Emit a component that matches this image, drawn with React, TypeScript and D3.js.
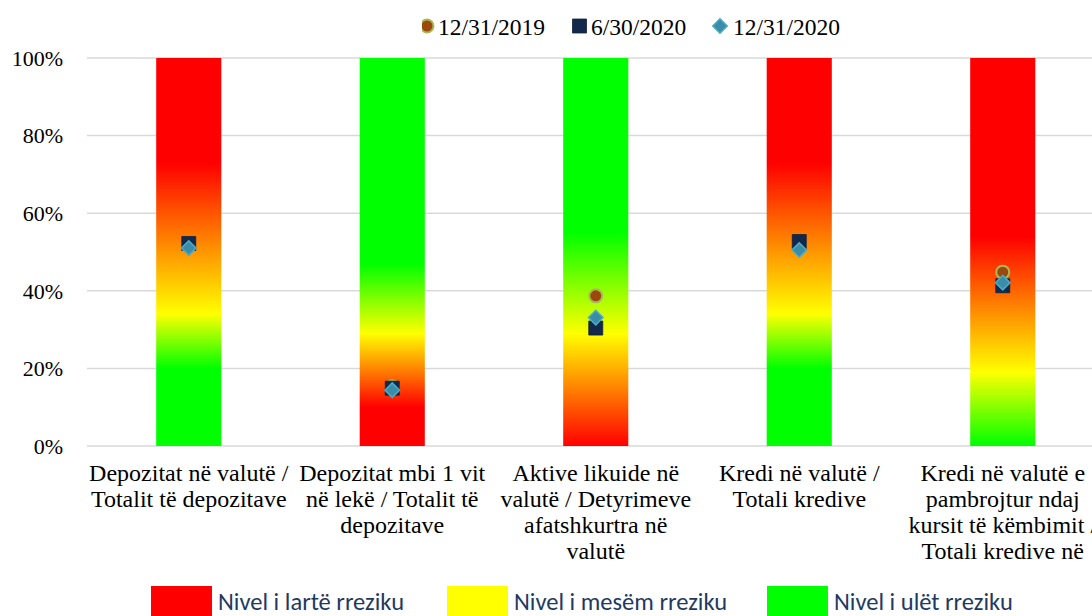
import { scaleBand, scaleLinear, symbol, symbolSquare } from "d3";

const W = 1092;
const H = 616;

// category labels, already wrapped the way the reference wraps them
const categoryLines = [
  ["Depozitat në valutë /", "Totalit të depozitave"],
  ["Depozitat mbi 1 vit", "në lekë / Totalit të", "depozitave"],
  ["Aktive likuide në", "valutë / Detyrimeve", "afatshkurtra në", "valutë"],
  ["Kredi në valutë /", "Totali kredive"],
  ["Kredi në valutë e", "pambrojtur ndaj", "kursit të këmbimit /", "Totali kredive në"],
];

const dates = ["12/31/2019", "6/30/2020", "12/31/2020"];
const values2019 = [0.52, 0.153, 0.387, 0.52, 0.448];
const valuesJun2020 = [0.522, 0.149, 0.304, 0.527, 0.413];
const valuesDec2020 = [0.51, 0.144, 0.331, 0.505, 0.421];

const RED = "#ff0000";
const YELLOW = "#ffff00";
const GREEN = "#00ff00";

// colour ramp of each bar, offsets in data units (0..1)
const barStops: [number, string][][] = [
  [[0, GREEN], [0.2, GREEN], [0.34, YELLOW], [0.73, RED], [1, RED]],
  [[0, RED], [0.1, RED], [0.29, YELLOW], [0.47, GREEN], [1, GREEN]],
  [[0, RED], [0.29, YELLOW], [0.55, GREEN], [1, GREEN]],
  [[0, GREEN], [0.2, GREEN], [0.34, YELLOW], [0.73, RED], [1, RED]],
  [[0, GREEN], [0.19, YELLOW], [0.54, RED], [1, RED]],
];

const yTicks = [0, 0.2, 0.4, 0.6, 0.8, 1];

const riskLabels = ["Nivel i lartë rreziku", "Nivel i mesëm rreziku", "Nivel i ulët rreziku"];
const riskColors = [RED, YELLOW, GREEN];

const serif = "'Liberation Serif'";
const calibri = "Carlito";

const x = scaleBand<number>()
  .domain(categoryLines.map((_, i) => i))
  .range([87, 1104.5])
  .paddingInner(0.68)
  .paddingOuter(0.34);
const y = scaleLinear().domain([0, 1]).range([446, 58]);
const cx = (i: number) => x(i)! + x.bandwidth() / 2;

const squarePath = symbol().type(symbolSquare).size(196)()!;
const diamondPath = symbol().type(symbolSquare).size(105)()!;

const CIRCLE = { fill: "#9c4a0c", stroke: "#a9b95a" };
const SQUARE = { fill: "#13294b", stroke: "#0f2240" };
const DIAMOND = { fill: "#3a8ca8", stroke: "#4bacc6" };

// legend layout (marker centre, text start)
const topLegendX = [
  [427, 438],
  [579.5, 591],
  [720, 733],
];
const riskLegendX = [151, 447, 767];

function Marker({ kind, tx, ty, clip }: { kind: number; tx: number; ty: number; clip?: string }) {
  if (kind === 0)
    return (
      <circle
        cx={tx}
        cy={ty}
        r={6.5}
        fill={CIRCLE.fill}
        stroke={CIRCLE.stroke}
        strokeWidth={2}
        clipPath={clip}
      />
    );
  if (kind === 1)
    return (
      <path
        d={squarePath}
        transform={`translate(${tx},${ty})`}
        fill={SQUARE.fill}
        stroke={SQUARE.stroke}
        strokeWidth={0.8}
      />
    );
  return (
    <path
      d={diamondPath}
      transform={`translate(${tx},${ty}) rotate(45)`}
      fill={DIAMOND.fill}
      stroke={DIAMOND.stroke}
      strokeWidth={1.5}
    />
  );
}

export default function App() {
  const series = [values2019, valuesJun2020, valuesDec2020];
  return (
    <svg
      width={W}
      height={H}
      style={{ position: "absolute", left: 0, top: 0, display: "block", background: "#fff" }}
    >
      <defs>
        {barStops.map((stops, i) => (
          <linearGradient
            key={i}
            id={`bar${i}`}
            gradientUnits="userSpaceOnUse"
            x1={0}
            x2={0}
            y1={y(0)}
            y2={y(1)}
          >
            {stops.map(([o, c], k) => (
              <stop key={k} offset={o} stopColor={c} />
            ))}
          </linearGradient>
        ))}
        <clipPath id="legclip" clipPathUnits="userSpaceOnUse">
          <rect x={422} y={0} width={20} height={50} />
        </clipPath>
      </defs>

      {/* gridlines */}
      {yTicks.map((t) => (
        <line key={t} x1={87} x2={W} y1={y(t)} y2={y(t)} stroke="#d9d9d9" strokeWidth={1.5} />
      ))}

      {/* y tick labels */}
      {yTicks.map((t) => (
        <text
          key={t}
          x={63}
          y={y(t)}
          dy="0.35em"
          textAnchor="end"
          style={{ fontFamily: serif, fontSize: "22px" }}
          fill="#000"
        >
          {`${Math.round(t * 100)}%`}
        </text>
      ))}

      {/* gradient bars */}
      {categoryLines.map((_, i) => (
        <rect
          key={i}
          x={x(i)}
          y={y(1)}
          width={x.bandwidth()}
          height={y(0) - y(1)}
          fill={`url(#bar${i})`}
        />
      ))}

      {/* markers: circles first, squares, diamonds on top */}
      {series.map((vals, s) => (
        <g key={s}>
          {vals.map((v, i) => (
            <Marker key={i} kind={s} tx={cx(i)} ty={y(v)} />
          ))}
        </g>
      ))}

      {/* category labels */}
      {categoryLines.map((lines, i) => (
        <text
          key={i}
          textAnchor="middle"
          style={{ fontFamily: serif, fontSize: "24px" }}
          fill="#000"
        >
          {lines.map((l, k) => (
            <tspan key={k} x={cx(i)} y={481 + k * 26}>
              {l}
            </tspan>
          ))}
        </text>
      ))}

      {/* top legend */}
      {dates.map((d, i) => (
        <g key={d}>
          <Marker
            kind={i}
            tx={topLegendX[i][0]}
            ty={26}
            clip={i === 0 ? "url(#legclip)" : undefined}
          />
          <text
            x={topLegendX[i][1]}
            y={35}
            style={{ fontFamily: serif, fontSize: "23.5px" }}
            fill="#000"
          >
            {d}
          </text>
        </g>
      ))}

      {/* risk legend */}
      {riskLabels.map((l, i) => (
        <g key={l}>
          <rect x={riskLegendX[i]} y={586} width={61} height={32} fill={riskColors[i]} />
          <text
            x={riskLegendX[i] + 67}
            y={610}
            style={{ fontFamily: calibri, fontSize: "24.5px" }}
            fill="#1f3a5f"
          >
            {l}
          </text>
        </g>
      ))}
    </svg>
  );
}
